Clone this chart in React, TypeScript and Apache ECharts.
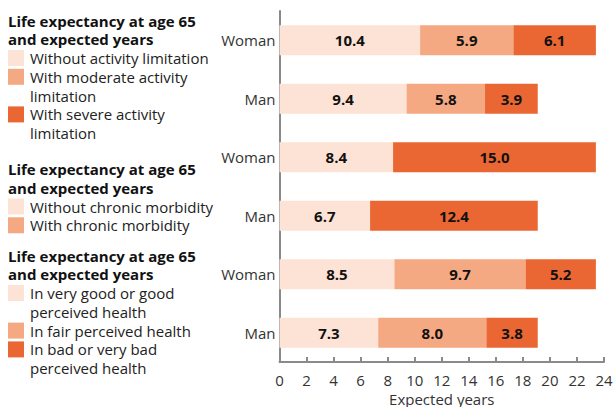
import React, { useEffect, useRef } from "react";
import * as echarts from "echarts";

const categories = ["Woman", "Man", "Woman", "Man", "Woman", "Man"];
// stacked segments, top row first
const lightValues = [10.4, 9.4, 8.4, 6.7, 8.5, 7.3];
const mediumValues = [6.9, 5.8, null, null, 9.7, 8.0];
const darkValues = [6.1, 3.9, 15.0, 12.4, 5.2, 3.8];
// labels printed on the segments (the reference prints 5.9 on the 6.9-long segment)
const lightLabels = ["10.4", "9.4", "8.4", "6.7", "8.5", "7.3"];
const mediumLabels = ["5.9", "5.8", "", "", "9.7", "8.0"];
const darkLabels = ["6.1", "3.9", "15.0", "12.4", "5.2", "3.8"];

const xTicks = [0, 24, 2]; // min, max, interval
const xAxisName = "Expected years";

const legendHeading = "Life expectancy at age 65\nand expected years";
const activityLegend = ["Without activity limitation", "With moderate activity\nlimitation", "With severe activity\nlimitation"];
const chronicLegend = ["Without chronic morbidity", "With chronic morbidity"];
const healthLegend = ["In very good or good\nperceived health", "In fair perceived health", "In bad or very bad\nperceived health"];

const LIGHT = "#fde3d5";
const MEDIUM = "#f4a982";
const DARK = "#ea6733";
const FONT = "Open Sans";

function buildLegend() {
  const els: any[] = [];
  const groups = [
    { start: 20.5, items: activityLegend, colors: [LIGHT, MEDIUM, DARK] },
    { start: 169, items: chronicLegend, colors: [LIGHT, MEDIUM] },
    { start: 255.5, items: healthLegend, colors: [LIGHT, MEDIUM, DARK] },
  ];
  const HEAD_LH = 18.5;
  const ITEM_LH = 18.8;
  groups.forEach((g) => {
    els.push({
      type: "text",
      x: 8,
      y: g.start - HEAD_LH / 2,
      style: {
        text: legendHeading,
        fontFamily: FONT,
        fontSize: 15,
        lineHeight: HEAD_LH,
        fontWeight: "bold",
        fill: "#111",
        verticalAlign: "top",
        align: "left",
      },
    });
    let y = g.start + 37.5;
    g.items.forEach((name, idx) => {
      els.push({ type: "rect", shape: { x: 8, y: y - 8, width: 16, height: 16 }, style: { fill: g.colors[idx] } });
      els.push({
        type: "text",
        x: 30,
        y: y - ITEM_LH / 2,
        style: {
          text: name,
          fontFamily: FONT,
          fontSize: 15,
          lineHeight: ITEM_LH,
          fill: "#222",
          verticalAlign: "top",
          align: "left",
        },
      });
      y += ITEM_LH * name.split("\n").length;
    });
  });
  return els;
}

export default function App() {
  const ref = useRef<HTMLDivElement>(null);
  useEffect(() => {
    const chart = echarts.init(ref.current!, undefined, { renderer: "svg" });
    const labelStyle = (labels: string[]) => ({
      show: true,
      position: "inside",
      fontFamily: FONT,
      fontSize: 15,
      fontWeight: "bold",
      color: "#111",
      formatter: (p: any) => labels[p.dataIndex],
    });
    const series = [
      { data: lightValues, color: LIGHT, labels: lightLabels },
      { data: mediumValues, color: MEDIUM, labels: mediumLabels },
      { data: darkValues, color: DARK, labels: darkLabels },
    ].map((s) => ({
      type: "bar",
      stack: "total",
      barWidth: 30,
      data: s.data.map((v) => (v == null ? "-" : v)),
      itemStyle: { color: s.color },
      label: labelStyle(s.labels),
    }));
    chart.setOption({
      animation: false,
      grid: { left: 279.5, right: 10, top: 11, bottom: 45, containLabel: false, outerBoundsMode: "none" },
      xAxis: {
        type: "value",
        min: xTicks[0],
        max: xTicks[1],
        interval: xTicks[2],
        name: xAxisName,
        nameLocation: "middle",
        nameGap: 24,
        nameTextStyle: { fontFamily: FONT, fontSize: 15, color: "#333" },
        axisLine: { show: true, lineStyle: { color: "#8a8a8a", width: 2 } },
        axisTick: { show: true, inside: true, length: 5, lineStyle: { color: "#8a8a8a", width: 2 } },
        axisLabel: { fontFamily: FONT, fontSize: 15, color: "#333", margin: 10 },
        splitLine: { show: false },
      },
      yAxis: {
        type: "category",
        data: categories,
        inverse: true,
        axisLine: { show: true, lineStyle: { color: "#8a8a8a", width: 2 } },
        axisTick: { show: false },
        axisLabel: { fontFamily: FONT, fontSize: 15, color: "#333", margin: 4 },
      },
      series,
      graphic: buildLegend(),
    });
    return () => chart.dispose();
  }, []);
  return <div ref={ref} style={{ width: 614, height: 407, position: "absolute", left: 0, top: 0 }} />;
}
